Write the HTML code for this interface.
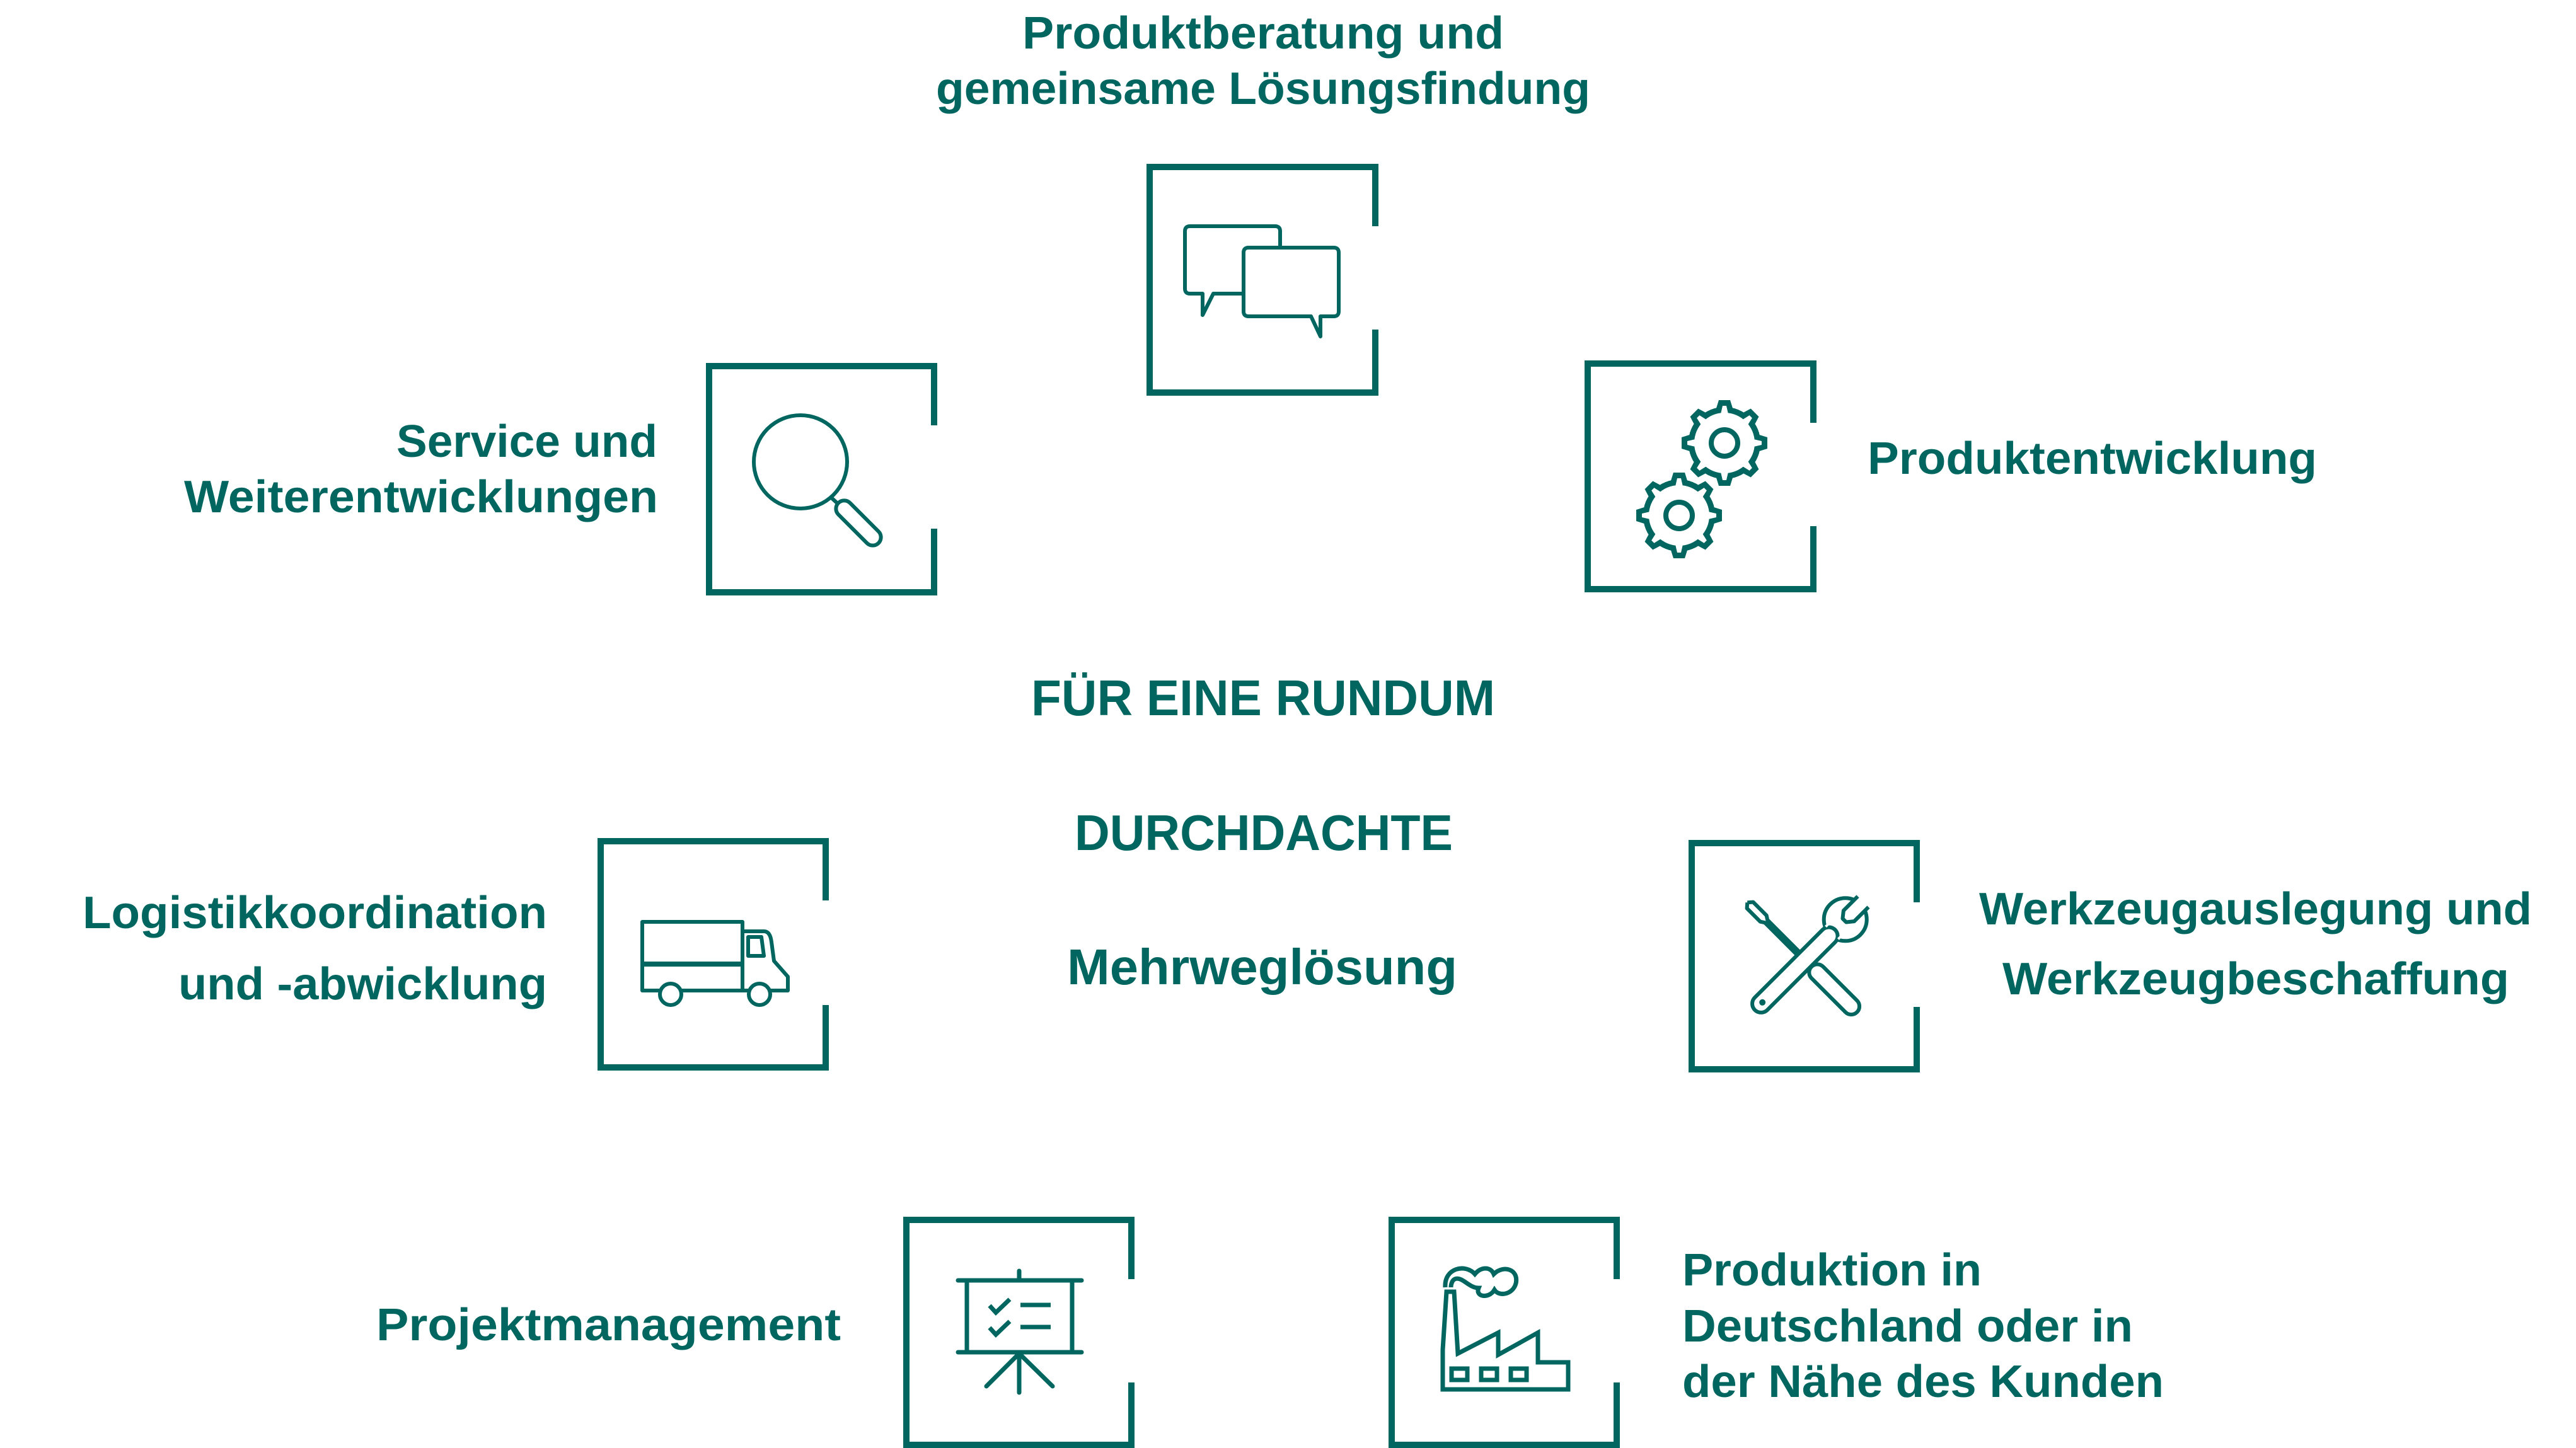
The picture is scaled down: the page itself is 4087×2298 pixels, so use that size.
<!DOCTYPE html>
<html><head><meta charset="utf-8"><style>
html,body{margin:0;padding:0;background:#fff;}
svg{display:block;}
text{font-family:"Liberation Sans",sans-serif;font-weight:bold;fill:#00665f;}
</style></head><body>
<svg width="4087" height="2298" viewBox="0 0 4087 2298" xmlns="http://www.w3.org/2000/svg">
<defs>
<g id="gearT"><circle r="57" fill="#00665f"/>
<g fill="#00665f"><polygon points="-14,-52 14,-52 9,-68 -9,-68"/></g></g>
</defs>
<!-- boxes -->
<g fill="none" stroke="#00665f" stroke-width="10">
<path d="M2182,359 V265 H1824 V623 H2182 V523"/>
<path d="M1482,675 V581 H1125 V940 H1482 V839"/>
<path d="M2877,671 V577 H2519 V935 H2877 V835"/>
<path transform="translate(-8,0)" d="M1318,1429 V1335 H961 V1694 H1318 V1595"/>
<path transform="translate(-16,0)" d="M3057,1432 V1338 H2700 V1697 H3057 V1598"/>
<path transform="translate(-10,0)" d="M1805,2030 V1936 H1448 V2293 H1805 V2194 M1805,2194 V2298"/>
<path transform="translate(-13,0)" d="M2578,2030 V1936 H2221 V2293 H2578 V2194"/>
</g>

<!-- chat icon -->
<g fill="none" stroke="#00665f" stroke-width="6" stroke-linejoin="round">
<path d="M1888,359 H2023 Q2031,359 2031,367 V395 M1973,466 H1925 L1908,500 V466 H1888 Q1880,466 1880,458 V367 Q1880,359 1888,359"/>
<path d="M1981,393 H2116 Q2124,393 2124,401 V494 Q2124,502 2116,502 H2095 V534 L2080,502 H1981 Q1973,502 1973,494 V401 Q1973,393 1981,393 Z"/>
</g>
<!-- magnifier -->
<g fill="none" stroke="#00665f" stroke-width="6">
<circle cx="1270" cy="733" r="74"/>
<line x1="1318" y1="789" x2="1330" y2="800"/>
<rect x="-13" y="-45" width="26" height="90" rx="13" transform="translate(1362,830) rotate(-45)"/>
</g>
<!-- gears -->
<g transform="translate(2736,703)">
<use href="#gearT"/><use href="#gearT" transform="rotate(45)"/><use href="#gearT" transform="rotate(90)"/><use href="#gearT" transform="rotate(135)"/><use href="#gearT" transform="rotate(180)"/><use href="#gearT" transform="rotate(225)"/><use href="#gearT" transform="rotate(270)"/><use href="#gearT" transform="rotate(315)"/>
<g fill="#fff"><circle r="48"/>
<polygon points="-6,-46 6,-46 3,-59 -3,-59"/><polygon points="-6,-46 6,-46 3,-59 -3,-59" transform="rotate(45)"/><polygon points="-6,-46 6,-46 3,-59 -3,-59" transform="rotate(90)"/><polygon points="-6,-46 6,-46 3,-59 -3,-59" transform="rotate(135)"/><polygon points="-6,-46 6,-46 3,-59 -3,-59" transform="rotate(180)"/><polygon points="-6,-46 6,-46 3,-59 -3,-59" transform="rotate(225)"/><polygon points="-6,-46 6,-46 3,-59 -3,-59" transform="rotate(270)"/><polygon points="-6,-46 6,-46 3,-59 -3,-59" transform="rotate(315)"/></g>
<circle r="21" fill="none" stroke="#00665f" stroke-width="8"/>
</g>
<g transform="translate(2664,818)">
<use href="#gearT"/><use href="#gearT" transform="rotate(45)"/><use href="#gearT" transform="rotate(90)"/><use href="#gearT" transform="rotate(135)"/><use href="#gearT" transform="rotate(180)"/><use href="#gearT" transform="rotate(225)"/><use href="#gearT" transform="rotate(270)"/><use href="#gearT" transform="rotate(315)"/>
<g fill="#fff"><circle r="48"/>
<polygon points="-6,-46 6,-46 3,-59 -3,-59"/><polygon points="-6,-46 6,-46 3,-59 -3,-59" transform="rotate(45)"/><polygon points="-6,-46 6,-46 3,-59 -3,-59" transform="rotate(90)"/><polygon points="-6,-46 6,-46 3,-59 -3,-59" transform="rotate(135)"/><polygon points="-6,-46 6,-46 3,-59 -3,-59" transform="rotate(180)"/><polygon points="-6,-46 6,-46 3,-59 -3,-59" transform="rotate(225)"/><polygon points="-6,-46 6,-46 3,-59 -3,-59" transform="rotate(270)"/><polygon points="-6,-46 6,-46 3,-59 -3,-59" transform="rotate(315)"/></g>
<circle r="21" fill="none" stroke="#00665f" stroke-width="8"/>
</g>
<!-- truck -->
<g fill="none" stroke="#00665f" stroke-width="6" stroke-linejoin="round">
<path d="M1019,1572 V1463 H1178 V1572 Z"/>
<line x1="1019" y1="1530" x2="1178" y2="1530" stroke-width="8"/>
<path d="M1178,1478 H1212 Q1222,1478 1224,1495 L1228,1525 L1250,1550 V1572 H1178"/>
<path d="M1187,1487 H1208 L1212,1517 H1187 Z"/>
<circle cx="1064" cy="1578" r="17" fill="#fff"/>
<circle cx="1205" cy="1578" r="17" fill="#fff"/>
</g>
<!-- tools -->
<g transform="translate(2,0)" fill="none" stroke="#00665f" stroke-width="6" stroke-linejoin="round">
<g transform="translate(2858,1520) rotate(45)">
<path d="M-124,0 L-118,-7 L-88,-7 L-82,-3 H10 M-124,0 L-118,7 L-88,7 L-82,3 H10"/>
<rect x="20" y="-13" width="102" height="26" rx="13"/>
</g>
<g transform="translate(2855,1530) rotate(-45)" fill="#fff">
<circle cx="100" cy="0" r="34"/>
<rect x="-103" y="-14" width="180" height="28" rx="14"/>
<path d="M140,-12 H108 L98,-4 V4 L108,12 H140" stroke="#00665f"/>
<path d="M76,-14 L70,-14 M76,14 L70,14" stroke="#fff" stroke-width="4"/>
<circle cx="-86" cy="0" r="5" fill="#00665f" stroke="none"/>
</g>
</g>
<!-- project -->
<g fill="none" stroke="#00665f" stroke-width="7" stroke-linecap="round">
<line x1="1520" y1="2032" x2="1716" y2="2032"/>
<line x1="1617" y1="2017" x2="1617" y2="2032"/>
<line x1="1534" y1="2032" x2="1534" y2="2146"/>
<line x1="1701" y1="2032" x2="1701" y2="2146"/>
<line x1="1520" y1="2146" x2="1716" y2="2146"/>
<line x1="1617" y1="2148" x2="1565" y2="2200"/>
<line x1="1617" y1="2148" x2="1670" y2="2200"/>
<line x1="1617" y1="2148" x2="1617" y2="2210"/>
<path d="M1570,2072 L1580,2083 L1602,2062 M1570,2107 L1580,2118 L1602,2097" stroke-linecap="butt"/>
<path d="M1619,2071 H1667 M1619,2106 H1667" stroke-linecap="butt"/>
</g>
<!-- factory -->
<g fill="none" stroke="#00665f" stroke-width="7">
<path d="M2289,2205 V2142 L2295,2050 H2307 L2313,2148 L2377,2115 V2150 L2440,2115 V2162 L2488,2162 V2205 Z"/>
<rect x="2303" y="2172" width="25" height="18"/>
<rect x="2350" y="2172" width="25" height="18"/>
<rect x="2397" y="2172" width="25" height="18"/>
<path d="M2293,2043 C2291,2012 2325,2005 2340,2022 C2350,2010 2365,2010 2370,2022 C2385,2007 2410,2014 2405,2037 C2400,2055 2378,2058 2371,2047 C2362,2062 2340,2058 2346,2044 C2330,2044 2320,2025 2308,2030 C2302,2033 2302,2043 2302,2043"/>
</g>
<!-- texts -->
<g font-size="72">
<text x="1622" y="77" textLength="764" lengthAdjust="spacingAndGlyphs">Produktberatung und</text>
<text x="1485" y="165" textLength="1038" lengthAdjust="spacingAndGlyphs">gemeinsame Lösungsfindung</text>
<text x="629" y="725" textLength="414" lengthAdjust="spacingAndGlyphs">Service und</text>
<text x="292" y="813" textLength="752" lengthAdjust="spacingAndGlyphs">Weiterentwicklungen</text>
<text x="2963" y="752" textLength="713" lengthAdjust="spacingAndGlyphs">Produktentwicklung</text>
<text x="131" y="1473" textLength="737" lengthAdjust="spacingAndGlyphs">Logistikkoordination</text>
<text x="283" y="1586" textLength="585" lengthAdjust="spacingAndGlyphs">und -abwicklung</text>
<text x="3140" y="1467" textLength="877" lengthAdjust="spacingAndGlyphs">Werkzeugauslegung und</text>
<text x="3177" y="1578" textLength="804" lengthAdjust="spacingAndGlyphs">Werkzeugbeschaffung</text>
<text x="597" y="2127" textLength="737" lengthAdjust="spacingAndGlyphs">Projektmanagement</text>
<text x="2669" y="2040" textLength="475" lengthAdjust="spacingAndGlyphs">Produktion in</text>
<text x="2669" y="2129" textLength="715" lengthAdjust="spacingAndGlyphs">Deutschland oder in</text>
<text x="2669" y="2217" textLength="764" lengthAdjust="spacingAndGlyphs">der Nähe des Kunden</text>
</g>
<g font-size="80">
<text x="1636" y="1135" textLength="736" lengthAdjust="spacingAndGlyphs">FÜR EINE RUNDUM</text>
<text x="1705" y="1349" textLength="600" lengthAdjust="spacingAndGlyphs">DURCHDACHTE</text>
<text x="1693" y="1562" textLength="619" lengthAdjust="spacingAndGlyphs">Mehrweglösung</text>
</g>
</svg>
</body></html>
